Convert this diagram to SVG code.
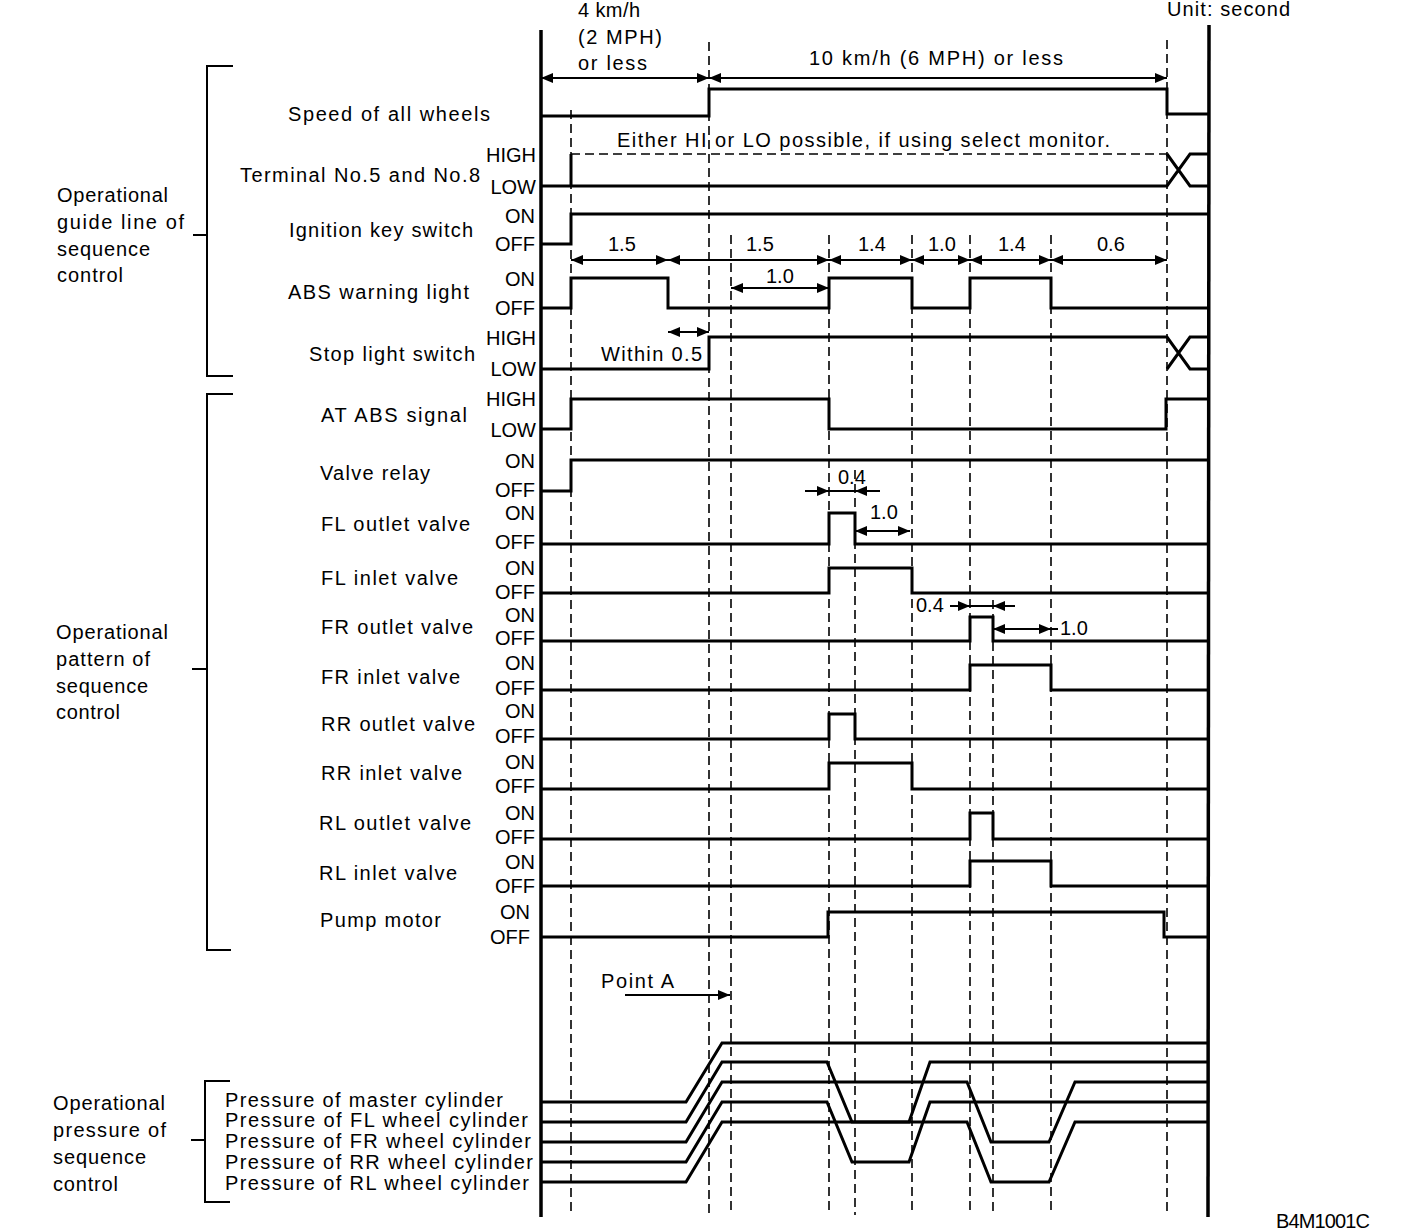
<svg xmlns="http://www.w3.org/2000/svg" width="1408" height="1230" viewBox="0 0 1408 1230">
<style>
.t{font-family:"Liberation Sans",Arial,sans-serif;font-size:20px;fill:#000}
.e{text-anchor:end}
.sig{fill:none;stroke:#000;stroke-width:3}
.thin{fill:none;stroke:#000;stroke-width:2}
.ax{fill:none;stroke:#000;stroke-width:3.5}
.br{fill:none;stroke:#000;stroke-width:2}
.g{fill:none;stroke:#000;stroke-width:1.6;stroke-dasharray:9 5}
.dim{fill:none;stroke:#000;stroke-width:2;marker-start:url(#ah);marker-end:url(#ah)}
.one{fill:none;stroke:#000;stroke-width:2;marker-end:url(#ah)}
</style>
<defs>
<marker id="ah" viewBox="0 0 12 10" refX="12" refY="5" markerWidth="12" markerHeight="10" markerUnits="userSpaceOnUse" orient="auto-start-reverse" preserveAspectRatio="none"><path d="M0,0 L12,5 L0,10 z" fill="#000"/></marker>
</defs>
<rect width="1408" height="1230" fill="#fff"/>

<g id="axes">
<line class="ax" x1="541" y1="30" x2="541" y2="1217"/>
<line class="ax" x1="1209" y1="25" x2="1208" y2="1217"/>
</g>

<g id="header">
<text class="t" x="578" y="17" textLength="62">4 km/h</text>
<text class="t" x="578" y="44" textLength="84">(2 MPH)</text>
<text class="t" x="578" y="70" textLength="69">or less</text>
<text class="t" x="809" y="65" textLength="254">10 km/h (6 MPH) or less</text>
<text class="t" x="1167" y="16" textLength="123">Unit: second</text>
<text class="t" x="1276" y="1228" textLength="94">B4M1001C</text>
</g>

<g id="group-guide">
<path class="br" d="M233,66 H207 V376 H233 M193,235 H207"/>
<text class="t" x="57" y="202" textLength="111">Operational</text>
<text class="t" x="57" y="229" textLength="127">guide line of</text>
<text class="t" x="57" y="256" textLength="93">sequence</text>
<text class="t" x="57" y="282" textLength="66">control</text>
</g>
<g id="group-pattern">
<path class="br" d="M233,394 H207 V950 H231 M192,669 H207"/>
<text class="t" x="56" y="639" textLength="112">Operational</text>
<text class="t" x="56" y="666" textLength="94">pattern of</text>
<text class="t" x="56" y="693" textLength="92">sequence</text>
<text class="t" x="56" y="719" textLength="64">control</text>
</g>
<g id="group-pressure">
<path class="br" d="M230,1081 H205 V1202 H230 M191,1140 H205"/>
<text class="t" x="53" y="1110" textLength="112">Operational</text>
<text class="t" x="53" y="1137" textLength="113">pressure of</text>
<text class="t" x="53" y="1164" textLength="93">sequence</text>
<text class="t" x="53" y="1191" textLength="65">control</text>
</g>

<g id="connectors">
<line class="g" x1="571" y1="110" x2="571" y2="1215"/>
<line class="g" x1="709" y1="42" x2="709" y2="1215"/>
<line class="g" x1="731" y1="235" x2="731" y2="1215"/>
<line class="g" x1="829" y1="235" x2="829" y2="1215"/>
<line class="g" x1="855" y1="470" x2="855" y2="1215"/>
<line class="g" x1="912" y1="235" x2="912" y2="1215"/>
<line class="g" x1="970" y1="235" x2="970" y2="1215"/>
<line class="g" x1="993" y1="600" x2="993" y2="1215"/>
<line class="g" x1="1051" y1="235" x2="1051" y2="1215"/>
<line class="g" x1="1167" y1="40" x2="1167" y2="1215"/>
<line class="dim" x1="541" y1="78" x2="709" y2="78"/>
<line class="dim" x1="709" y1="78" x2="1167" y2="78"/>
<line class="dim" x1="571" y1="260" x2="668" y2="260"/>
<line class="dim" x1="668" y1="260" x2="829" y2="260"/>
<line class="dim" x1="829" y1="260" x2="912" y2="260"/>
<line class="dim" x1="912" y1="260" x2="970" y2="260"/>
<line class="dim" x1="970" y1="260" x2="1051" y2="260"/>
<line class="dim" x1="1051" y1="260" x2="1167" y2="260"/>
<line class="dim" x1="731" y1="288" x2="829" y2="288"/>
<line class="dim" x1="668" y1="332" x2="709" y2="332"/>
<line class="one" x1="805" y1="491" x2="829" y2="491"/>
<line class="one" x1="880" y1="491" x2="855" y2="491"/>
<line class="thin" x1="829" y1="491" x2="855" y2="491"/>
<line class="dim" x1="855" y1="531" x2="910" y2="531"/>
<line class="one" x1="950" y1="606" x2="970" y2="606"/>
<line class="one" x1="1015" y1="606" x2="993" y2="606"/>
<line class="thin" x1="970" y1="606" x2="993" y2="606"/>
<line class="dim" x1="993" y1="629" x2="1051" y2="629"/>
<line class="thin" x1="1051" y1="629" x2="1058" y2="629"/>
<line class="one" x1="625" y1="995" x2="730" y2="995"/>
</g>

<g id="dim-labels">
<text class="t" x="608" y="251">1.5</text>
<text class="t" x="746" y="251">1.5</text>
<text class="t" x="858" y="251">1.4</text>
<text class="t" x="928" y="251">1.0</text>
<text class="t" x="998" y="251">1.4</text>
<text class="t" x="1097" y="251">0.6</text>
<text class="t" x="766" y="283">1.0</text>
<text class="t" x="601" y="361" textLength="101">Within 0.5</text>
<text class="t" x="838" y="484">0.4</text>
<text class="t" x="870" y="519">1.0</text>
<text class="t" x="916" y="612">0.4</text>
<text class="t" x="1060" y="635">1.0</text>
<text class="t" x="601" y="988" textLength="73">Point A</text>
</g>

<g id="speed">
<text class="t" x="288" y="121" textLength="202">Speed of all wheels</text>
<path class="sig" d="M541,116 H709 V89 H1167 V114 H1209"/>
</g>
<g id="terminal">
<text class="t" x="240" y="182" textLength="240">Terminal No.5 and No.8</text>
<text class="t e" x="536" y="162">HIGH</text>
<text class="t e" x="536" y="194">LOW</text>
<text class="t" x="617" y="147" textLength="493">Either HI or LO possible, if using select monitor.</text>
<path class="sig" d="M541,186 H1167 L1190,154 H1209 M1167,154 L1190,186 H1209 M571,186 V154"/>
<line class="g" x1="571" y1="154" x2="1167" y2="154"/>
</g>
<g id="ignition">
<text class="t" x="289" y="237" textLength="184">Ignition key switch</text>
<text class="t e" x="535" y="223">ON</text>
<text class="t e" x="535" y="251">OFF</text>
<path class="sig" d="M541,244 H571 V214 H1209"/>
</g>
<g id="abs-warning">
<text class="t" x="288" y="299" textLength="181">ABS warning light</text>
<text class="t e" x="535" y="286">ON</text>
<text class="t e" x="535" y="315">OFF</text>
<path class="sig" d="M541,308 H571 V278 H668 V308 H829 V278 H912 V308 H970 V278 H1051 V308 H1209"/>
</g>
<g id="stop-light">
<text class="t" x="309" y="361" textLength="166">Stop light switch</text>
<text class="t e" x="536" y="345">HIGH</text>
<text class="t e" x="536" y="376">LOW</text>
<path class="sig" d="M541,369 H709 V337 H1167 L1190,369 H1209 M1167,369 L1190,337 H1209"/>
</g>
<g id="at-abs">
<text class="t" x="321" y="422" textLength="146">AT ABS signal</text>
<text class="t e" x="536" y="406">HIGH</text>
<text class="t e" x="536" y="437">LOW</text>
<path class="sig" d="M541,429 H571 V399 H829 V429 H1166 V399 H1209"/>
</g>
<g id="valve-relay">
<text class="t" x="320" y="480" textLength="110">Valve relay</text>
<text class="t e" x="535" y="468">ON</text>
<text class="t e" x="535" y="497">OFF</text>
<path class="sig" d="M541,491 H571 V460 H1209"/>
</g>
<g id="fl-outlet">
<text class="t" x="321" y="531" textLength="149">FL outlet valve</text>
<text class="t e" x="535" y="520">ON</text>
<text class="t e" x="535" y="549">OFF</text>
<path class="sig" d="M541,544 H829 V513 H855 V544 H1209"/>
</g>
<g id="fl-inlet">
<text class="t" x="321" y="585" textLength="137">FL inlet valve</text>
<text class="t e" x="535" y="575">ON</text>
<text class="t e" x="535" y="599">OFF</text>
<path class="sig" d="M541,593 H829 V568 H912 V593 H1209"/>
</g>
<g id="fr-outlet">
<text class="t" x="321" y="634" textLength="152">FR outlet valve</text>
<text class="t e" x="535" y="622">ON</text>
<text class="t e" x="535" y="645">OFF</text>
<path class="sig" d="M541,641 H970 V617 H993 V641 H1209"/>
</g>
<g id="fr-inlet">
<text class="t" x="321" y="684" textLength="139">FR inlet valve</text>
<text class="t e" x="535" y="670">ON</text>
<text class="t e" x="535" y="695">OFF</text>
<path class="sig" d="M541,690 H970 V665 H1051 V690 H1209"/>
</g>
<g id="rr-outlet">
<text class="t" x="321" y="731" textLength="154">RR outlet valve</text>
<text class="t e" x="535" y="718">ON</text>
<text class="t e" x="535" y="743">OFF</text>
<path class="sig" d="M541,739 H829 V714 H855 V739 H1209"/>
</g>
<g id="rr-inlet">
<text class="t" x="321" y="780" textLength="141">RR inlet valve</text>
<text class="t e" x="535" y="769">ON</text>
<text class="t e" x="535" y="793">OFF</text>
<path class="sig" d="M541,789 H829 V763 H912 V789 H1209"/>
</g>
<g id="rl-outlet">
<text class="t" x="319" y="830" textLength="152">RL outlet valve</text>
<text class="t e" x="535" y="820">ON</text>
<text class="t e" x="535" y="844">OFF</text>
<path class="sig" d="M541,839 H970 V813 H993 V839 H1209"/>
</g>
<g id="rl-inlet">
<text class="t" x="319" y="880" textLength="138">RL inlet valve</text>
<text class="t e" x="535" y="869">ON</text>
<text class="t e" x="535" y="893">OFF</text>
<path class="sig" d="M541,886 H970 V861 H1051 V886 H1209"/>
</g>
<g id="pump-motor">
<text class="t" x="320" y="927" textLength="121">Pump motor</text>
<text class="t e" x="530" y="919">ON</text>
<text class="t e" x="530" y="944">OFF</text>
<path class="sig" d="M541,937 H828 V912 H1164 V937 H1208"/>
</g>

<g id="p-master">
<text class="t" x="225" y="1107" textLength="278">Pressure of master cylinder</text>
<path class="sig" d="M541,1102 H686 L722,1043 H1208"/>
</g>
<g id="p-fl">
<text class="t" x="225" y="1127" textLength="303">Pressure of FL wheel cylinder</text>
<path class="sig" d="M541,1122 H686 L722,1062 H827 L852,1122 H909 L930,1062 H1208"/>
</g>
<g id="p-fr">
<text class="t" x="225" y="1148" textLength="306">Pressure of FR wheel cylinder</text>
<path class="sig" d="M541,1142 H686 L722,1082 H967 L991,1142 H1049 L1075,1082 H1208"/>
</g>
<g id="p-rr">
<text class="t" x="225" y="1169" textLength="308">Pressure of RR wheel cylinder</text>
<path class="sig" d="M541,1162 H686 L722,1102 H827 L852,1162 H909 L930,1102 H1208"/>
</g>
<g id="p-rl">
<text class="t" x="225" y="1190" textLength="304">Pressure of RL wheel cylinder</text>
<path class="sig" d="M541,1182 H686 L722,1122 H967 L991,1182 H1049 L1075,1122 H1208"/>
</g>
</svg>
